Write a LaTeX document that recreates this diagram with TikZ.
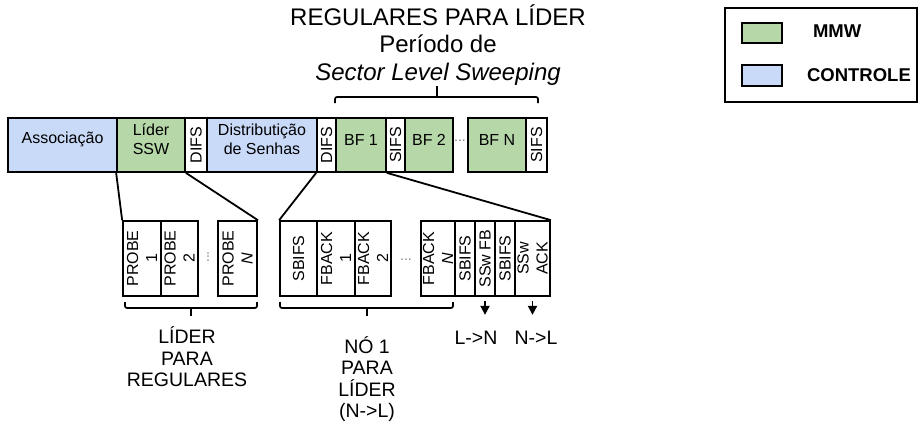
\documentclass[tikz,border=0pt]{standalone}
\usepackage{fontspec}
\setmainfont{Liberation Sans}
\usepackage{xcolor}
\usepackage{tikz}
\usetikzlibrary{arrows.meta,calc,fit}
\definecolor{mmwgreen}{HTML}{B6D7A8}
\definecolor{ctrlblue}{HTML}{C9DAF8}

\begin{document}
\begin{tikzpicture}[x=0.5pt, y=-0.5pt, >={Triangle[width=4.5pt,length=4.5pt]},
  slot/.style={draw, line width=0.85pt, inner sep=0pt, align=center, font=\fontsize{8}{9.5}\selectfont},
  vtext/.style={rotate=90, align=center, inner sep=0pt, font=\fontsize{8}{9.5}\selectfont},
  gap/.style={text=gray, inner sep=0pt, font=\fontsize{7}{8}\selectfont},
  link/.style={line width=0.9pt},
  bracket/.style={line width=0.85pt, rounded corners=1pt},
  caption/.style={align=center, font=\fontsize{9.75}{10.75}\selectfont},
  keytext/.style={anchor=west, font=\bfseries\fontsize{9.25}{10}\selectfont}]

\useasboundingbox (0,0) rectangle (919,428);

% ---------------- 1. TITLE ----------------
\node[align=center, font=\fontsize{12}{13.75}\selectfont] (title) at (438,45)
  {REGULARES PARA LÍDER\\Período de\\\textit{Sector Level Sweeping}};

% brace over the sweeping period
\draw[bracket] (335,103) -- (335,97) -- (538,97) -- (538,103);
\draw[bracket] (437,97) -- (437,86);

% ---------------- 2. TOP ROW (superframe) ----------------
\node[slot, fill=ctrlblue, fit={(8,118) (117,172)}] (assoc) {Associação};
\node[slot, fill=mmwgreen, fit={(117,118) (185,172)}] (lider) {Líder\\SSW};
\node[slot, fit={(185,118) (207,172)}] (difsA) {};
\node[vtext] (difsAlbl) at (difsA) {DIFS};
\node[slot, fill=ctrlblue, fit={(207,118) (317,172)}] (distr) {Distributição\\de Senhas};
\node[slot, fit={(317,118) (336,172)}] (difsB) {};
\node[vtext] (difsBlbl) at (difsB) {DIFS};
\node[slot, fill=mmwgreen, fit={(336,118) (386,172)}] (bf1) {BF 1};
\node[slot, fit={(386,118) (405,172)}] (sifsA) {};
\node[vtext] (sifsAlbl) at (sifsA) {SIFS};
\node[slot, fill=mmwgreen, fit={(405,118) (453,172)}] (bf2) {BF 2};
\node[gap] (gapBF) at (460,141) {...};
\node[slot, fill=mmwgreen, fit={(468,118) (526,172)}] (bfn) {BF N};
\node[slot, fit={(526,118) (547,172)}] (sifsB) {};
\node[vtext] (sifsBlbl) at (sifsB) {SIFS};

% ---------------- 3. PROBES (leader to regulars) ----------------
\node[slot, fit={(123,221) (161,296)}] (probe1) {};
\node[vtext] (probe1lbl) at (probe1) {PROBE\\1};
\node[slot, fit={(161,221) (198,296)}] (probe2) {};
\node[vtext] (probe2lbl) at (probe2) {PROBE\\2};
\node[gap, rotate=90] (gapProbe) at (208,257) {...};
\node[slot, fit={(218,221) (257,296)}] (proben) {};
\node[vtext] (probenlbl) at (proben) {PROBE\\\textit{N}};

\draw[link] (lider.south west) -- (probe1.north west);
\draw[link] (lider.south east) -- (proben.north east);

% ---------------- 4. FEEDBACK (node 1 to leader) ----------------
\node[slot, fit={(280,221) (317,296)}] (sbifs0) {};
\node[vtext] (sbifs0lbl) at (sbifs0) {SBIFS};
\node[slot, fit={(317,221) (355,296)}] (fback1) {};
\node[vtext] (fback1lbl) at (fback1) {FBACK\\1};
\node[slot, fit={(355,221) (391,296)}] (fback2) {};
\node[vtext] (fback2lbl) at (fback2) {FBACK\\2};
\node[gap] (gapFback) at (406,260) {...};
\node[slot, fit={(421,221) (455,296)}] (fbackn) {};
\node[vtext] (fbacknlbl) at (fbackn) {FBACK\\\textit{N}};
\node[slot, fit={(455,221) (475,296)}] (sbifs1) {};
\node[vtext] (sbifs1lbl) at (sbifs1) {SBIFS};
\node[slot, fit={(475,221) (495,296)}] (ssfb) {};
\node[vtext] (ssfblbl) at (ssfb) {SSw FB};
\node[slot, fit={(495,221) (515,296)}] (sbifs2) {};
\node[vtext] (sbifs2lbl) at (sbifs2) {SBIFS};
\node[slot, fit={(515,221) (550,296)}] (ssack) {};
\node[vtext] (ssacklbl) at (ssack) {SSw\\ACK};

\draw[link] (difsB.south west) -- (sbifs0.north west);
\draw[link] (bf1.south east) -- (ssack.north east);

% ---------------- 5. BRACKETS, ARROWS AND CAPTIONS ----------------
\draw[bracket] (125,302) -- (125,308) -- (257,308) -- (257,302);
\draw[bracket] (191,308) -- (191,316);
\draw[bracket] (280,302) -- (280,308) -- (453,308) -- (453,302);
\draw[bracket] (367,308) -- (367,316);

\draw[link, ->] ([yshift=-2pt]ssfb.south) -- ++(0,14);
\draw[link, ->] ([yshift=-2pt]ssack.south) -- ++(0,14);

\node[caption] (capLider) at (187,357) {LÍDER\\PARA\\REGULARES};
\node[caption] (capNo) at (367,379) {NÓ 1\\PARA\\LÍDER\\(N->L)};
\node[caption] (capLN) at (476,338) {L->N};
\node[caption] (capNL) at (536,338) {N->L};

% ---------------- 6. LEGEND ----------------
\node[draw, line width=0.85pt, inner sep=0pt, fit={(725,8) (917,102)}] (legend) {};
\node[slot, fill=mmwgreen, fit={(742,23) (782,43)}] (keyMMW) {};
\node[keytext] (keyMMWlbl) at (806,31) {MMW};
\node[slot, fill=ctrlblue, fit={(742,65) (782,86)}] (keyCtrl) {};
\node[keytext] (keyCtrllbl) at (800,75) {CONTROLE};

\end{tikzpicture}
\end{document}
